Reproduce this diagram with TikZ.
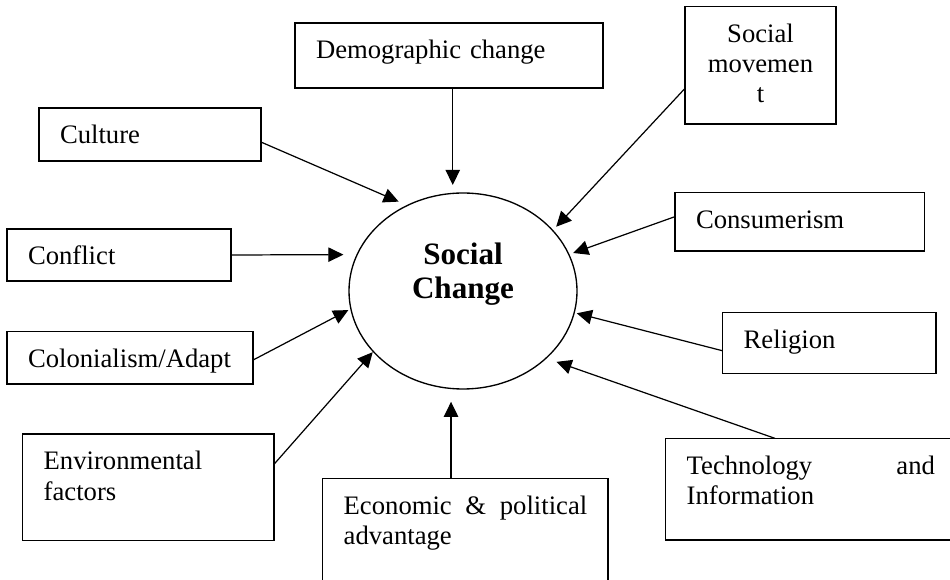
\documentclass[tikz,border=0pt]{standalone}
\usepackage{fontspec}
\setmainfont{Liberation Serif}
\usepackage{tikz}
\usetikzlibrary{arrows.meta,shapes.geometric}
\hyphenpenalty=10000

\begin{document}
\begin{tikzpicture}
[x=0.45pt, y=-0.45pt,
ovalnode/.style={ellipse, draw, line width=0.6pt, minimum width=102.6pt, minimum height=88.2pt, inner sep=0pt, outer sep=0pt, text width=50pt, align=center, text height=10pt, text depth=33.4pt, font=\bfseries\fontsize{14}{15.3}\selectfont},
boxnode/.style={rectangle, draw, line width=0.7pt, anchor=north west, inner xsep=9.45pt, inner ysep=0pt, outer sep=0pt, text height=16.2pt, align=left, font=\fontsize{12}{13.5}\selectfont},
arrowline/.style={-{Triangle[length=6.8pt, width=6.5pt]}, line width=0.55pt},
]
\useasboundingbox (0,0) rectangle (950,580);
\clip (0,0) rectangle (950,580);
\node[ovalnode]	(change) at (463,291) {Social\\Change};
\node[boxnode, text width=119.7pt, text depth=13.05pt]	(demographic) at (295,23) {Demographic change};
\node[boxnode, text width=49.05pt, text depth=36.6pt, align=center]	(socialMov) at (685,6.7) {Social\\movemen\\t};
\node[boxnode, text width=81pt, text depth=7.65pt]	(culture) at (39,108) {Culture};
\node[boxnode, text width=93.3pt, text depth=10.2pt]	(consumer) at (675,192.3) {Consumerism};
\node[boxnode, text width=81.9pt, text depth=7.2pt]	(conflict) at (7,229) {Conflict};
\node[boxnode, text width=77.1pt, text depth=11.1pt]	(religion) at (722.7,312.7) {Religion};
\node[boxnode, text width=91.8pt, text depth=7.35pt]	(colonial) at (7,331.7) {Colonialism/Adapt};
\node[boxnode, text width=94.3pt, text depth=31.8pt]	(environ) at (22.7,434) {Environmental\\factors};
\node[boxnode, text width=109.6pt, text depth=38.6pt]	(economic) at (322.7,478.3) {Economic\hfill\&\hfill political\\advantage};
\node[boxnode, text width=131.7pt, text depth=29.6pt]	(technology) at (665.7,438.3) {Technology\hfill and\hspace*{20pt}\null\\Information};
\draw[arrowline, shorten >=3.8pt]	(demographic.south -| change.96) -- (change.96);
\draw[arrowline, shorten >=4.3pt]	([yshift=-3.4pt]culture.east) -- (change.123);
\draw[arrowline, shorten >=6.2pt]	(conflict.east) -- (change.161);
\draw[arrowline, shorten >=1.3pt]	([yshift=-1pt]colonial.east) -- (change.189);
\draw[arrowline, shorten >=0.4pt]	([yshift=10.5pt]environ.east) -- (change.214);
\draw[arrowline, shorten >=6pt]	(economic.north -| change.263) -- (change.263);
\draw[arrowline, shorten >=5pt]	([xshift=-26.2pt]technology.north) -- (change.321);
\draw[arrowline, shorten >=1.2pt]	([yshift=-3.5pt]religion.west) -- (change.349);
\draw[arrowline, shorten >=2.1pt]	([yshift=2.25pt]consumer.west) -- (change.19);
\draw[arrowline, shorten >=2.3pt]	([yshift=-10.35pt]socialMov.west) -- (change.34);
\end{tikzpicture}
\end{document}
